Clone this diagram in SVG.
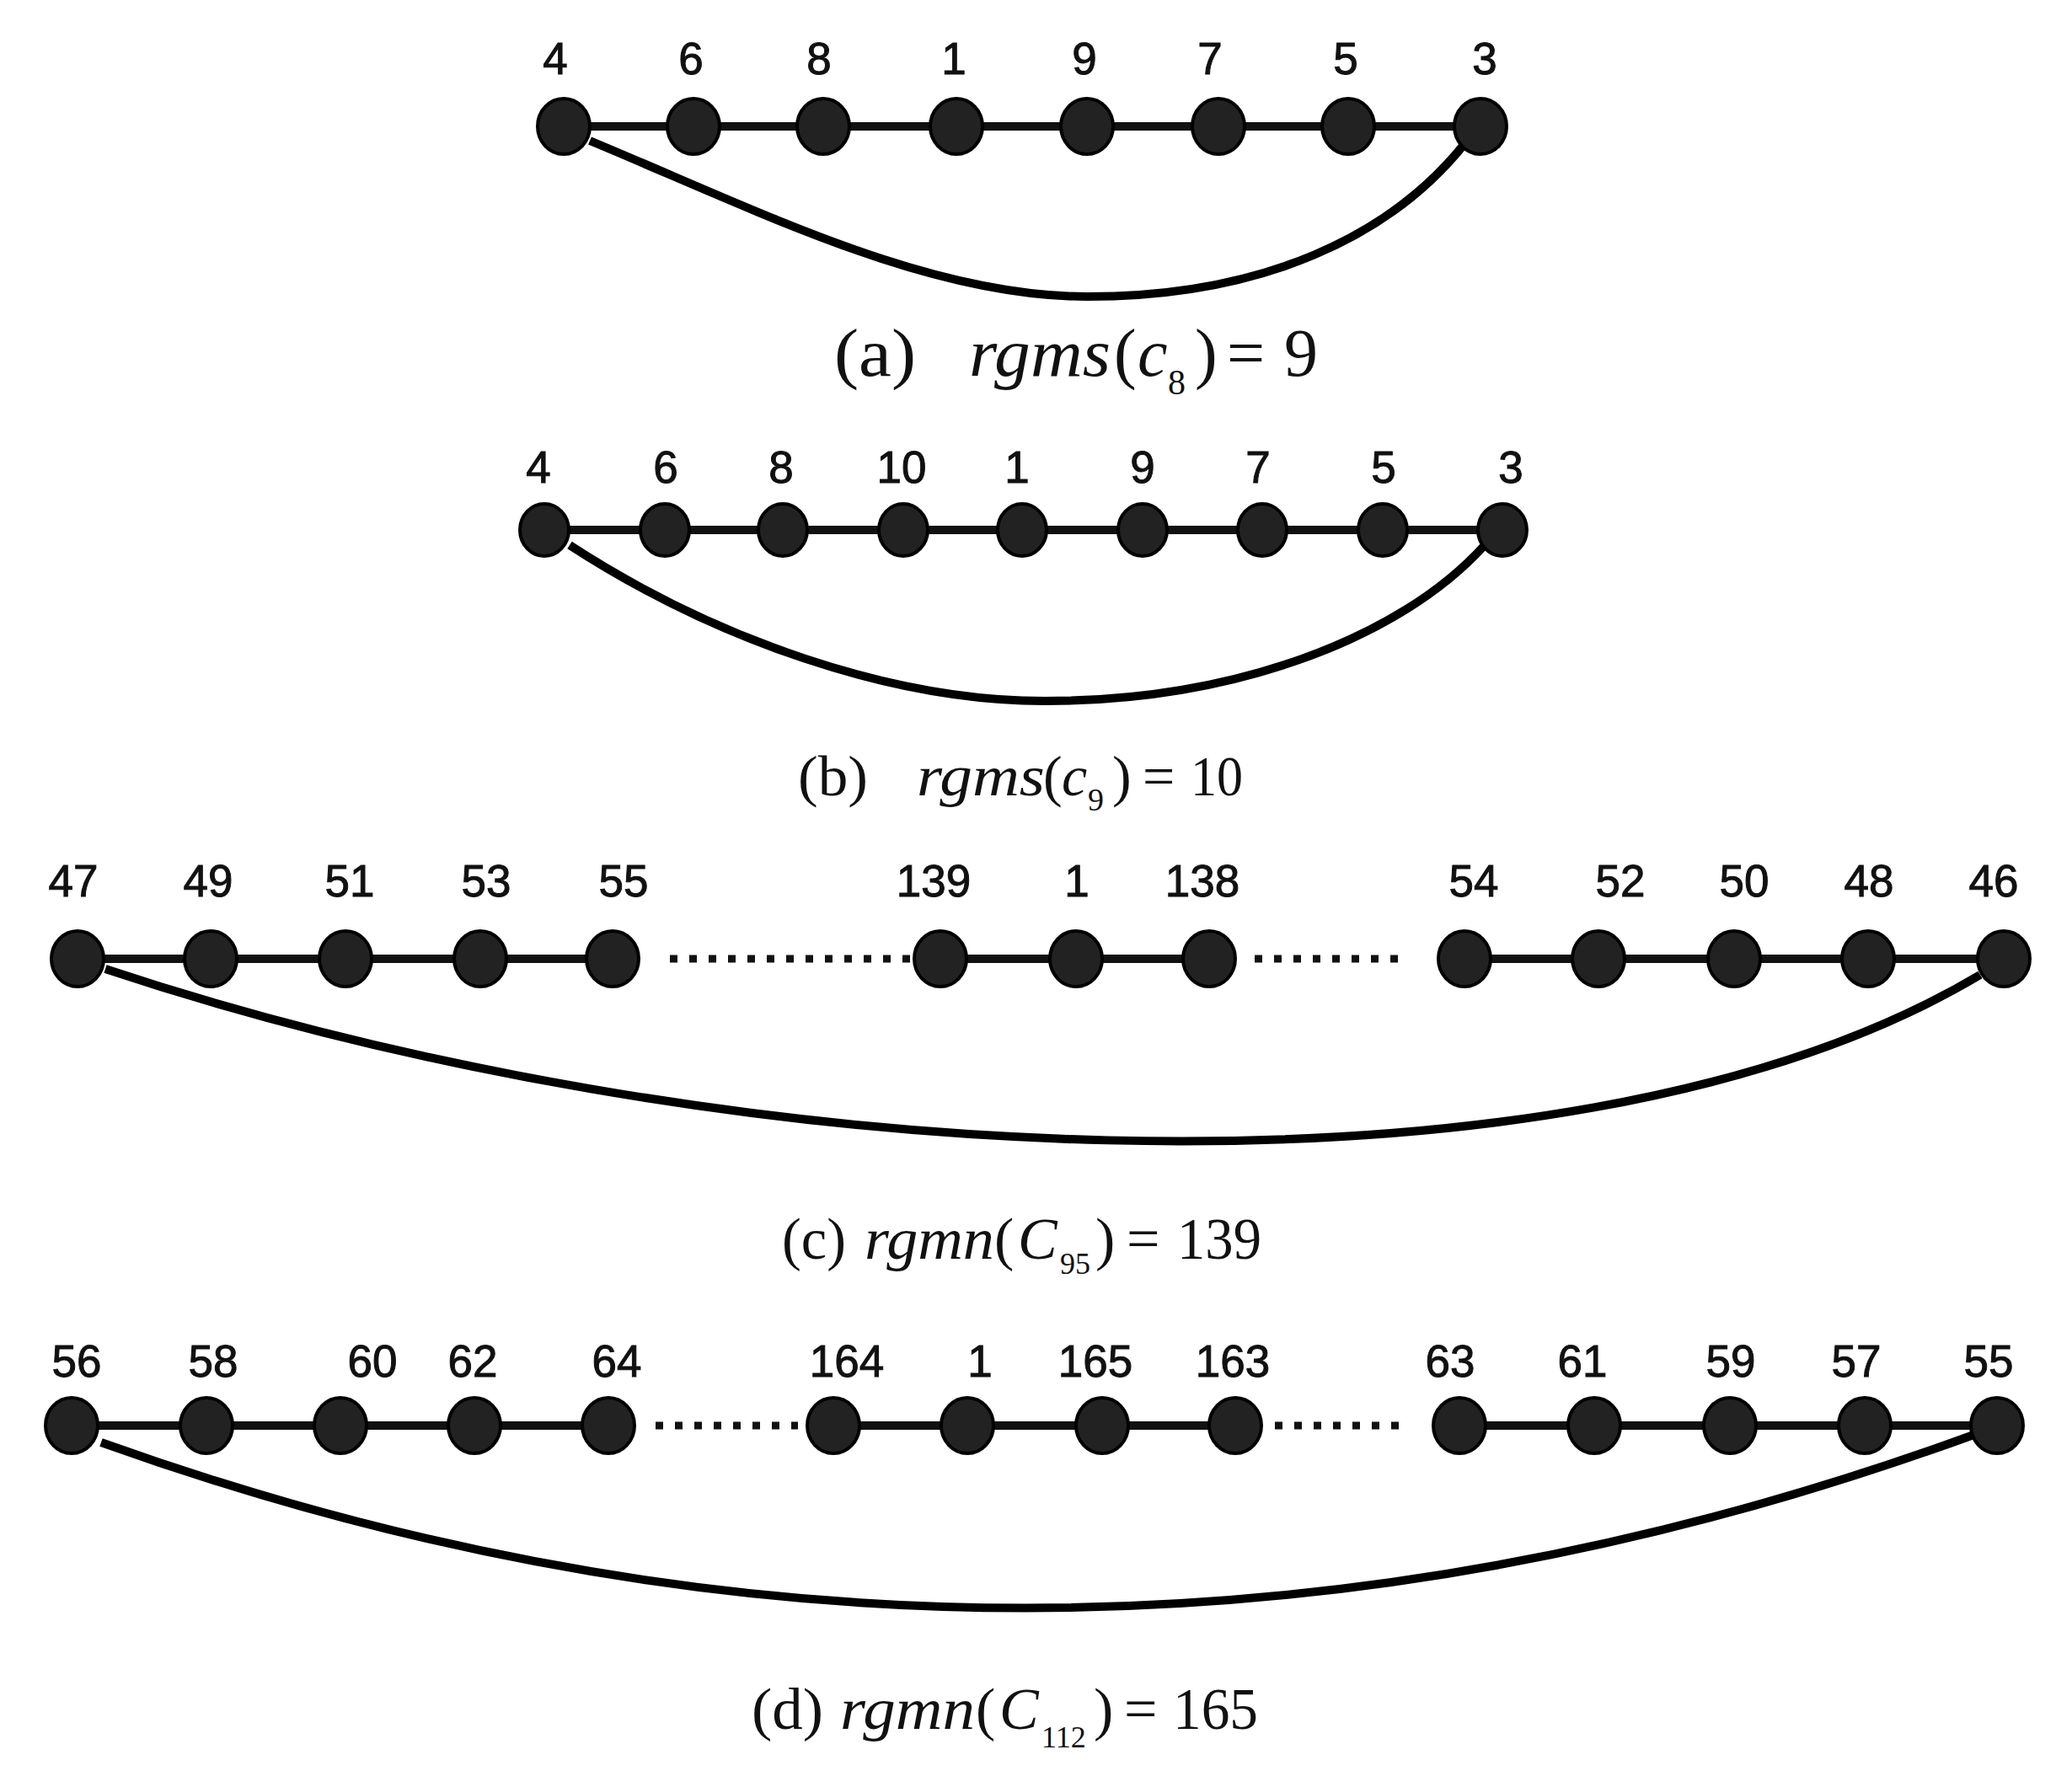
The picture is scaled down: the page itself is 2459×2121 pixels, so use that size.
<svg xmlns="http://www.w3.org/2000/svg" width="2459" height="2121" viewBox="0 0 2459 2121">
<style>
.edge{stroke:#111;stroke-width:10;fill:none}
.arc{stroke:#000;stroke-width:10;fill:none}
.dots{stroke:#111;stroke-width:9;stroke-dasharray:9 14;fill:none}
.node ellipse{fill:#222;stroke:#000;stroke-width:4}
.node text{font-family:"Liberation Sans",Arial,sans-serif;font-size:53px;fill:#111;stroke:#111;stroke-width:1;text-anchor:middle}
.cap{font-family:"Liberation Serif","Times New Roman",serif;fill:#111}
.it{font-style:italic}
</style>
<rect width="2459" height="2121" fill="#fff"/>
<g id="connectors">
<line class="edge" x1="669" y1="150" x2="1757" y2="150"/>
<path class="arc" d="M 700 167 C 900 250, 1100 352, 1290 352 C 1500 352, 1650 280, 1737 172"/>
<line class="edge" x1="646" y1="629" x2="1783" y2="629"/>
<path class="arc" d="M 676 647 C 850 760, 1060 832, 1240 832 C 1460 832, 1660 760, 1762 647"/>
<line class="edge" x1="92" y1="1138" x2="727" y2="1138"/>
<line class="edge" x1="1116" y1="1138" x2="1435" y2="1138"/>
<line class="edge" x1="1738" y1="1138" x2="2378" y2="1138"/>
<line class="dots" x1="795" y1="1138" x2="1085" y2="1138"/>
<line class="dots" x1="1489" y1="1138" x2="1672" y2="1138"/>
<path class="arc" d="M 125 1150 C 830 1385, 1850 1455, 2350 1157"/>
<line class="edge" x1="85" y1="1692" x2="722" y2="1692"/>
<line class="edge" x1="989" y1="1692" x2="1466" y2="1692"/>
<line class="edge" x1="1732" y1="1692" x2="2370" y2="1692"/>
<line class="dots" x1="778" y1="1692" x2="947" y2="1692"/>
<line class="dots" x1="1513" y1="1692" x2="1667" y2="1692"/>
<path class="arc" d="M 120 1712 Q 1230 2110 2345 1702"/>
</g>
<g id="panel-a">
<g id="a-4" class="node"><ellipse cx="669" cy="150" rx="31" ry="33"/><text x="659" y="88">4</text></g>
<g id="a-6" class="node"><ellipse cx="823" cy="150" rx="31" ry="33"/><text x="820" y="88">6</text></g>
<g id="a-8" class="node"><ellipse cx="977" cy="150" rx="31" ry="33"/><text x="972" y="88">8</text></g>
<g id="a-1" class="node"><ellipse cx="1135" cy="150" rx="31" ry="33"/><text x="1132" y="88">1</text></g>
<g id="a-9" class="node"><ellipse cx="1290" cy="150" rx="31" ry="33"/><text x="1287" y="88">9</text></g>
<g id="a-7" class="node"><ellipse cx="1446" cy="150" rx="31" ry="33"/><text x="1436" y="88">7</text></g>
<g id="a-5" class="node"><ellipse cx="1600" cy="150" rx="31" ry="33"/><text x="1597" y="88">5</text></g>
<g id="a-3" class="node"><ellipse cx="1757" cy="150" rx="31" ry="33"/><text x="1762" y="88">3</text></g>
<text id="cap-a" class="cap" font-size="80" y="446"><tspan x="990" textLength="97" lengthAdjust="spacingAndGlyphs">(a)</tspan><tspan class="it" x="1150" textLength="168" lengthAdjust="spacingAndGlyphs">rgms</tspan><tspan x="1322">(</tspan><tspan class="it" x="1350">c</tspan><tspan x="1386" dy="22" font-size="42">8</tspan><tspan x="1418" dy="-22">)</tspan><tspan x="1456">=</tspan><tspan x="1524">9</tspan></text>
</g>
<g id="panel-b">
<g id="b-4" class="node"><ellipse cx="646" cy="629" rx="29" ry="31"/><text x="639" y="573">4</text></g>
<g id="b-6" class="node"><ellipse cx="789" cy="629" rx="29" ry="31"/><text x="790" y="573">6</text></g>
<g id="b-8" class="node"><ellipse cx="929" cy="629" rx="29" ry="31"/><text x="927" y="573">8</text></g>
<g id="b-10" class="node"><ellipse cx="1072" cy="629" rx="29" ry="31"/><text x="1070" y="573">10</text></g>
<g id="b-1" class="node"><ellipse cx="1213" cy="629" rx="29" ry="31"/><text x="1207" y="573">1</text></g>
<g id="b-9" class="node"><ellipse cx="1356" cy="629" rx="29" ry="31"/><text x="1356" y="573">9</text></g>
<g id="b-7" class="node"><ellipse cx="1498" cy="629" rx="29" ry="31"/><text x="1493" y="573">7</text></g>
<g id="b-5" class="node"><ellipse cx="1641" cy="629" rx="29" ry="31"/><text x="1642" y="573">5</text></g>
<g id="b-3" class="node"><ellipse cx="1783" cy="629" rx="29" ry="31"/><text x="1793" y="573">3</text></g>
<text id="cap-b" class="cap" font-size="68" y="944"><tspan x="947" textLength="83" lengthAdjust="spacingAndGlyphs">(b)</tspan><tspan class="it" x="1088" textLength="152" lengthAdjust="spacingAndGlyphs">rgms</tspan><tspan x="1238">(</tspan><tspan class="it" x="1260">c</tspan><tspan x="1291" dy="18" font-size="38">9</tspan><tspan x="1320" dy="-18">)</tspan><tspan x="1356">=</tspan><tspan x="1413" textLength="62" lengthAdjust="spacingAndGlyphs">10</tspan></text>
</g>
<g id="panel-c">
<g id="c-47" class="node"><ellipse cx="92" cy="1138" rx="31" ry="33"/><text x="87" y="1064">47</text></g>
<g id="c-49" class="node"><ellipse cx="250" cy="1138" rx="31" ry="33"/><text x="247" y="1064">49</text></g>
<g id="c-51" class="node"><ellipse cx="410" cy="1138" rx="31" ry="33"/><text x="415" y="1064">51</text></g>
<g id="c-53" class="node"><ellipse cx="570" cy="1138" rx="31" ry="33"/><text x="577" y="1064">53</text></g>
<g id="c-55" class="node"><ellipse cx="727" cy="1138" rx="31" ry="33"/><text x="740" y="1064">55</text></g>
<g id="c-139" class="node"><ellipse cx="1116" cy="1138" rx="31" ry="33"/><text x="1108" y="1064">139</text></g>
<g id="c-1" class="node"><ellipse cx="1277" cy="1138" rx="31" ry="33"/><text x="1278" y="1064">1</text></g>
<g id="c-138" class="node"><ellipse cx="1435" cy="1138" rx="31" ry="33"/><text x="1427" y="1064">138</text></g>
<g id="c-54" class="node"><ellipse cx="1738" cy="1138" rx="31" ry="33"/><text x="1749" y="1064">54</text></g>
<g id="c-52" class="node"><ellipse cx="1897" cy="1138" rx="31" ry="33"/><text x="1923" y="1064">52</text></g>
<g id="c-50" class="node"><ellipse cx="2058" cy="1138" rx="31" ry="33"/><text x="2070" y="1064">50</text></g>
<g id="c-48" class="node"><ellipse cx="2217" cy="1138" rx="31" ry="33"/><text x="2218" y="1064">48</text></g>
<g id="c-46" class="node"><ellipse cx="2378" cy="1138" rx="31" ry="33"/><text x="2366" y="1064">46</text></g>
<text id="cap-c" class="cap" font-size="70" y="1494"><tspan x="928" textLength="76" lengthAdjust="spacingAndGlyphs">(c)</tspan><tspan class="it" x="1026" textLength="154" lengthAdjust="spacingAndGlyphs">rgmn</tspan><tspan x="1180">(</tspan><tspan class="it" x="1208">C</tspan><tspan x="1258" dy="18" font-size="36">95</tspan><tspan x="1300" dy="-18">)</tspan><tspan x="1337">=</tspan><tspan x="1397" textLength="100" lengthAdjust="spacingAndGlyphs">139</tspan></text>
</g>
<g id="panel-d">
<g id="d-56" class="node"><ellipse cx="85" cy="1692" rx="31" ry="33"/><text x="91" y="1634">56</text></g>
<g id="d-58" class="node"><ellipse cx="245" cy="1692" rx="31" ry="33"/><text x="253" y="1634">58</text></g>
<g id="d-60" class="node"><ellipse cx="404" cy="1692" rx="31" ry="33"/><text x="442" y="1634">60</text></g>
<g id="d-62" class="node"><ellipse cx="563" cy="1692" rx="31" ry="33"/><text x="561" y="1634">62</text></g>
<g id="d-64" class="node"><ellipse cx="722" cy="1692" rx="31" ry="33"/><text x="732" y="1634">64</text></g>
<g id="d-164" class="node"><ellipse cx="989" cy="1692" rx="31" ry="33"/><text x="1005" y="1634">164</text></g>
<g id="d-1" class="node"><ellipse cx="1148" cy="1692" rx="31" ry="33"/><text x="1163" y="1634">1</text></g>
<g id="d-165" class="node"><ellipse cx="1308" cy="1692" rx="31" ry="33"/><text x="1300" y="1634">165</text></g>
<g id="d-163" class="node"><ellipse cx="1466" cy="1692" rx="31" ry="33"/><text x="1463" y="1634">163</text></g>
<g id="d-63" class="node"><ellipse cx="1732" cy="1692" rx="31" ry="33"/><text x="1721" y="1634">63</text></g>
<g id="d-61" class="node"><ellipse cx="1892" cy="1692" rx="31" ry="33"/><text x="1878" y="1634">61</text></g>
<g id="d-59" class="node"><ellipse cx="2053" cy="1692" rx="31" ry="33"/><text x="2054" y="1634">59</text></g>
<g id="d-57" class="node"><ellipse cx="2213" cy="1692" rx="31" ry="33"/><text x="2203" y="1634">57</text></g>
<g id="d-55" class="node"><ellipse cx="2370" cy="1692" rx="31" ry="33"/><text x="2360" y="1634">55</text></g>
<text id="cap-d" class="cap" font-size="70" y="2052"><tspan x="892" textLength="85" lengthAdjust="spacingAndGlyphs">(d)</tspan><tspan class="it" x="997" textLength="160" lengthAdjust="spacingAndGlyphs">rgmn</tspan><tspan x="1158">(</tspan><tspan class="it" x="1186">C</tspan><tspan x="1236" dy="22" font-size="36">112</tspan><tspan x="1298" dy="-22">)</tspan><tspan x="1334">=</tspan><tspan x="1392" textLength="101" lengthAdjust="spacingAndGlyphs">165</tspan></text>
</g>
</svg>
